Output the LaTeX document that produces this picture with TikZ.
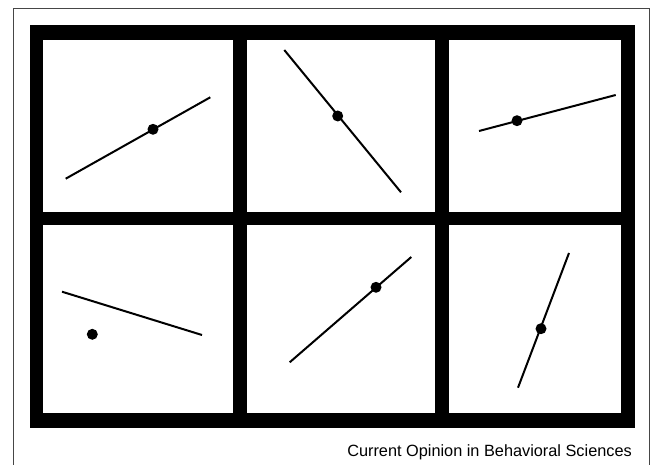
\documentclass[tikz,border=0pt]{standalone}
\usepackage{fontspec}
\setmainfont{Liberation Sans}
\usepackage{tikz}
\definecolor{framegray}{RGB}{70, 70, 70}

\begin{document}
\begin{tikzpicture}[
      x=1pt, y=-1pt,
      outline/.style={draw=framegray, line width=1pt},
      cell/.style={fill=white},
      stim/.style={draw=black, line width=2pt},
      dot/.style={circle, fill=black, inner sep=0pt, minimum size=11pt},
      credit/.style={font=\fontsize{16.3}{19}\selectfont, anchor=base east, inner sep=0pt}
    ]
    \useasboundingbox (0,0) rectangle (653,465);
    \fill[white] (0,0) rectangle (653,465);

    %% thin outer frame, open at the bottom
    \draw[outline] (13,465) -- (13,9) -- (649,9) -- (649,465);

    %% black grid
    \fill[black] (30,25) rectangle (635,428);
    \fill[cell] (43,40)   rectangle (233,212);
    \fill[cell] (247,40)  rectangle (435,212);
    \fill[cell] (449,40)  rectangle (621,212);
    \fill[cell] (43,225)  rectangle (233,413);
    \fill[cell] (247,225) rectangle (435,413);
    \fill[cell] (449,225) rectangle (621,413);

    %% line ends
    \coordinate (a1) at (65.7,178.7);  \coordinate (b1) at (210.3,97.3);
    \coordinate (a2) at (284.3,50);    \coordinate (b2) at (401,192.3);
    \coordinate (a3) at (479,131);     \coordinate (b3) at (615.7,95);
    \coordinate (a4) at (62,291.7);    \coordinate (b4) at (202,335);
    \coordinate (a5) at (289.7,362.3); \coordinate (b5) at (411.3,257);
    \coordinate (a6) at (518,387.7);   \coordinate (b6) at (569,253);

    \draw[stim] (a1) -- (b1);
    \draw[stim] (a2) -- (b2);
    \draw[stim] (a3) -- (b3);
    \draw[stim] (a4) -- (b4);
    \draw[stim] (a5) -- (b5);
    \draw[stim] (a6) -- (b6);

    %% dots
    \node[dot] (d1) at (153,129.3) {};
    \node[dot] (d2) at (337.7,116) {};
    \node[dot] (d3) at (517,120.7) {};
    \node[dot] (d4) at (92.3,334.3) {};
    \node[dot] (d5) at (376,287.3) {};
    \node[dot] (d6) at (541,328.7) {};

    \node[credit] (src) at (632,456) {Current Opinion in Behavioral Sciences};
  \end{tikzpicture}
\end{document}
